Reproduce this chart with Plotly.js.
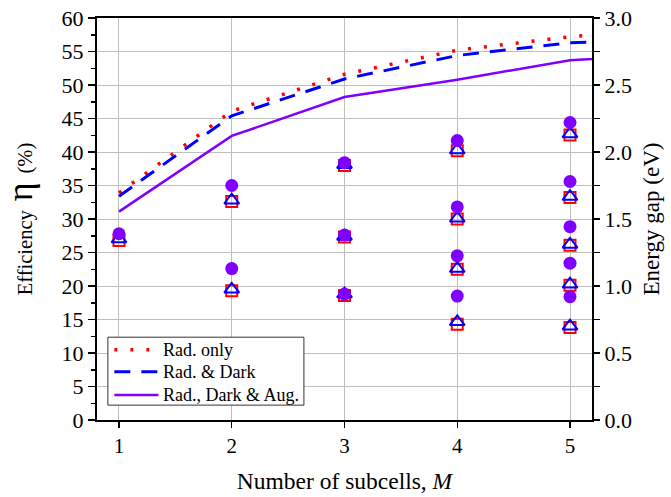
<!DOCTYPE html>
<html>
<head>
<meta charset="utf-8">
<script src="https://cdn.plot.ly/plotly-3.0.1.min.js"></script>
<style>html,body{margin:0;padding:0;background:#fff;}#chart{width:671px;height:497px;}</style>
</head>
<body>
<div id="chart"></div>
<script>
// Efficiency curves (left axis, %)
var M = [1, 2, 3, 4, 5, 6];
var effRadOnly = [33.9, 46.1, 51.6, 55.2, 57.2, 58.7];
var effRadDark = [33.4, 45.4, 50.9, 54.4, 56.3, 56.8];
var effRadDarkAug = [31.1, 42.4, 48.2, 50.8, 53.7, 54.7];

// Energy gaps (right axis, eV)
var gapM = [1, 2, 2, 3, 3, 3, 4, 4, 4, 4, 5, 5, 5, 5, 5];
var gapRadOnly = [1.34, 1.63, 0.965, 1.90, 1.365, 0.93, 2.01, 1.50, 1.125, 0.715, 2.127, 1.66, 1.305, 1.005, 0.69];
var gapRadDark = [1.35, 1.64, 0.975, 1.905, 1.37, 0.94, 2.015, 1.505, 1.13, 0.733, 2.135, 1.667, 1.31, 1.013, 0.70];
var gapRadDarkAug = [1.39, 1.75, 1.13, 1.92, 1.38, 0.94, 2.085, 1.59, 1.225, 0.925, 2.22, 1.78, 1.443, 1.17, 0.92];

var xTicks = [1, 2, 3, 4, 5];
var seriesNames = ['Rad. only', 'Rad. & Dark', 'Rad., Dark & Aug.'];

var RED = '#ff0000', BLUE = '#0000ff', PURPLE = '#8000ff';
var FONT = 'Liberation Serif';
var lineStyles = [
  {color: RED, width: 3.5, dash: '3px,13px'},
  {color: BLUE, width: 3, dash: '16px,11px'},
  {color: PURPLE, width: 2.5, dash: 'solid'}
];
var effSeries = [effRadOnly, effRadDark, effRadDarkAug];

var traces = [
  {x: gapM, y: gapRadOnly, yaxis: 'y2', type: 'scatter', mode: 'markers', showlegend: false,
   marker: {symbol: 'square-open', size: 11, color: RED, line: {width: 2, color: RED}}, cliponaxis: false},
  {x: gapM, y: gapRadDark, yaxis: 'y2', type: 'scatter', mode: 'markers', showlegend: false,
   marker: {symbol: 'triangle-up-open', size: 13, color: BLUE, line: {width: 2, color: BLUE}}, cliponaxis: false},
  {x: gapM, y: gapRadDarkAug, yaxis: 'y2', type: 'scatter', mode: 'markers', showlegend: false,
   marker: {symbol: 'circle', size: 13, color: PURPLE}, cliponaxis: false}
];
effSeries.forEach(function (ys, i) {
  traces.push({x: M, y: ys, type: 'scatter', mode: 'lines', name: seriesNames[i], showlegend: false,
    line: lineStyles[i]});
});

// Hand-built legend box (paper coordinates)
var legBox = {x0: 0.022, x1: 0.418, y0: 0.037, y1: 0.206};
var legRowsY = [0.175, 0.120, 0.062];
var legLineX = [0.035, 0.124];
var legTextX = 0.129;
var shapes = [{type: 'rect', xref: 'paper', yref: 'paper', x0: legBox.x0, x1: legBox.x1, y0: legBox.y0, y1: legBox.y1,
  fillcolor: '#ffffff', line: {color: '#333', width: 1}, layer: 'above'}];
var annotations = [];
seriesNames.forEach(function (name, i) {
  shapes.push({type: 'line', xref: 'paper', yref: 'paper', x0: legLineX[0], x1: legLineX[1],
    y0: legRowsY[i], y1: legRowsY[i], line: lineStyles[i], layer: 'above'});
  annotations.push({xref: 'paper', yref: 'paper', x: legTextX, y: legRowsY[i], xanchor: 'left', yanchor: 'middle',
    text: name, showarrow: false, font: {family: FONT, size: 18, color: '#000'}});
});

var layout = {
  width: 671, height: 497,
  margin: {l: 97, r: 79, t: 18, b: 77},
  paper_bgcolor: '#fff', plot_bgcolor: '#fff',
  font: {family: FONT, size: 20, color: '#000'},
  showlegend: false,
  shapes: shapes,
  annotations: annotations,
  xaxis: {
    range: [0.805, 5.195], tickvals: xTicks, ticktext: xTicks.map(String),
    showgrid: true, gridcolor: '#bfbfbf', gridwidth: 1,
    showline: true, linecolor: '#000', linewidth: 2, mirror: true,
    ticks: 'outside', ticklen: 6, tickwidth: 1.5, tickcolor: '#000',
    zeroline: false, tickfont: {family: FONT, size: 21},
    title: {text: 'Number of subcells, <i>M</i>', font: {family: FONT, size: 23.5}, standoff: 15}
  },
  yaxis: {
    range: [0, 60], dtick: 5, tick0: 0,
    showgrid: true, gridcolor: '#bfbfbf', gridwidth: 1,
    showline: true, linecolor: '#000', linewidth: 2,
    ticks: 'outside', ticklen: 7, tickwidth: 1.5, tickcolor: '#000',
    minor: {dtick: 2.5, tick0: 0, ticks: 'outside', ticklen: 4, tickwidth: 1.5, tickcolor: '#000', showgrid: false},
    zeroline: false, tickfont: {family: FONT, size: 22},
    title: {text: 'Efficiency<span style="font-size:36px"> η </span>(%)', font: {family: FONT, size: 20.5}, standoff: 24}
  },
  yaxis2: {
    overlaying: 'y', side: 'right', range: [0, 3], dtick: 0.5, tick0: 0, tickformat: '.1f',
    showgrid: false, showline: true, linecolor: '#000', linewidth: 2,
    ticks: 'outside', ticklen: 6, tickwidth: 1.5, tickcolor: '#000',
    minor: {dtick: 0.25, tick0: 0, ticks: 'outside', ticklen: 6, tickwidth: 1.5, tickcolor: '#000', showgrid: false},
    zeroline: false, tickfont: {family: FONT, size: 22},
    title: {text: 'Energy gap (eV)', font: {family: FONT, size: 23}, standoff: 12}
  }
};

Plotly.newPlot('chart', traces, layout, {displayModeBar: false, staticPlot: true});
</script>
</body>
</html>
